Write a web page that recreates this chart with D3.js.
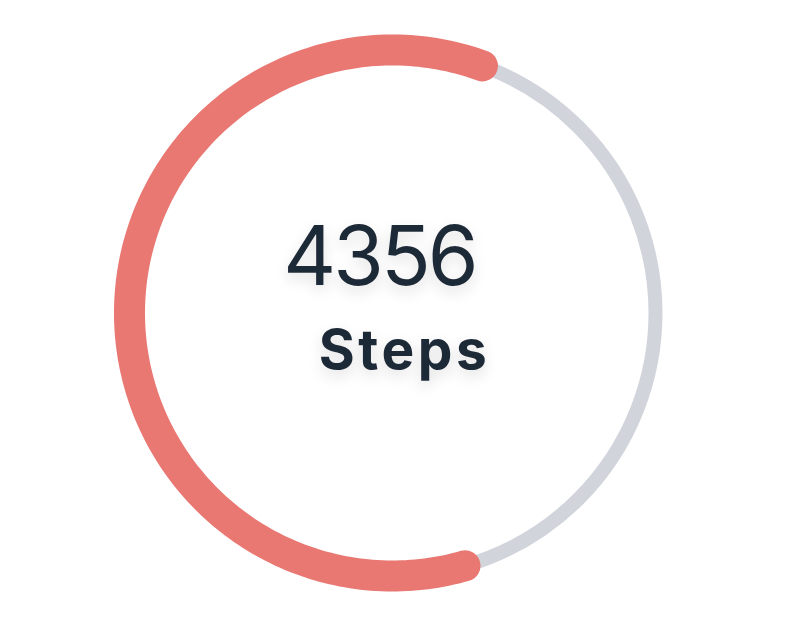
<!DOCTYPE html>
<html lang="en">

<head>
    <meta charset="UTF-8">
    <title>Steps</title>
    <script src="https://cdn.jsdelivr.net/npm/d3@7"></script>
    <style>
        body { margin: 0; background: #fff; }
    </style>
</head>

<body>
    <script>
    var width = 798;
    var height = 628;

    // data
    var steps = [4356];
    var goal = [7260];
    var labels = ['Steps'];
    var endAngleDeg = 20; // where the progress arc stops, clockwise from top

    var svg = d3.select('body')
        .append('svg')
        .attr('width', width)
        .attr('height', height);

    // soft shadow under the texts
    var defs = svg.append('defs');
    var f = defs.append('filter')
        .attr('id', 'shadow')
        .attr('x', '-30%').attr('y', '-30%')
        .attr('width', '160%').attr('height', '180%');
    f.append('feDropShadow')
        .attr('dx', 0).attr('dy', 6)
        .attr('stdDeviation', 7)
        .attr('flood-color', '#000')
        .attr('flood-opacity', 0.12);

    var cx = 392.5, cy = 313, r = 263;
    var g = svg.append('g').attr('transform', 'translate(' + cx + ',' + cy + ')');

    // share of the goal -> angle
    var angle = d3.scaleLinear().domain([0, goal[0]]).range([0, 2 * Math.PI]);
    var end = endAngleDeg * Math.PI / 180;

    // background ring
    g.append('circle')
        .attr('r', r)
        .attr('fill', 'none')
        .attr('stroke', '#d1d5db')
        .attr('stroke-width', 14);

    // progress arc (line on the ring, round caps)
    var span = angle(steps[0]);
    var pts = d3.range(0, 201).map(function(i) {
        return end - span + span * i / 200;
    });
    var line = d3.lineRadial()
        .angle(function(d) { return d; })
        .radius(r);
    g.append('path')
        .attr('d', line(pts))
        .attr('fill', 'none')
        .attr('stroke', '#e97772')
        .attr('stroke-width', 31)
        .attr('stroke-linecap', 'round');

    // texts
    g.append('text')
        .attr('x', -13)
        .attr('y', -28)
        .attr('text-anchor', 'middle')
        .attr('font-family', 'Inter, "Noto Sans", sans-serif')
        .attr('font-size', '82px')
        .attr('font-weight', 400)
        .attr('letter-spacing', '-3px')
        .attr('fill', '#1f2937')
        .attr('filter', 'url(#shadow)')
        .text(d3.format('d')(steps[0]));

    g.append('text')
        .attr('x', 12)
        .attr('y', 56)
        .attr('text-anchor', 'middle')
        .attr('font-family', 'Inter, "Noto Sans", sans-serif')
        .attr('font-size', '55px')
        .attr('font-weight', 700)
        .attr('letter-spacing', '3.5px')
        .attr('fill', '#1f2937')
        .attr('filter', 'url(#shadow)')
        .text(labels[0]);
    </script>
</body>

</html>
